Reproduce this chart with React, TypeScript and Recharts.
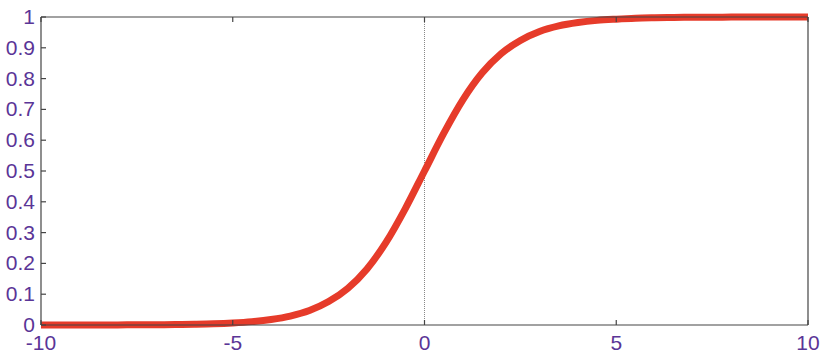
import React from "react";
import { LineChart, Line, XAxis, YAxis, ReferenceLine } from "recharts";

const xValues = [
  -10, -9.5, -9, -8.5, -8, -7.5, -7, -6.5, -6, -5.5, -5, -4.5, -4, -3.5, -3, -2.5, -2, -1.5, -1, -0.5,
  0, 0.5, 1, 1.5, 2, 2.5, 3, 3.5, 4, 4.5, 5, 5.5, 6, 6.5, 7, 7.5, 8, 8.5, 9, 9.5, 10,
];
const yValues = [
  0.0, 0.0001, 0.0001, 0.0002, 0.0003, 0.0006, 0.0009, 0.0015, 0.0025, 0.004, 0.0067, 0.011, 0.018,
  0.029, 0.047, 0.076, 0.119, 0.182, 0.269, 0.378, 0.5, 0.622, 0.731, 0.818, 0.881, 0.924, 0.953,
  0.971, 0.982, 0.989, 0.993, 0.996, 0.9975, 0.9985, 0.999, 0.9994, 0.9997, 0.9998, 0.9999, 0.9999, 1.0,
];
const xTicks = [-10, -5, 0, 5, 10];
const yTicks = [0, 0.1, 0.2, 0.3, 0.4, 0.5, 0.6, 0.7, 0.8, 0.9, 1];

const data = xValues.map((x, i) => ({ x, y: yValues[i] }));

const LABEL = "#5a3597";
const AXIS = "#444";
const FONT = "'Liberation Sans', Arial, Helvetica, sans-serif";

const BottomTick = (props: any) => {
  const { x, y, payload } = props;
  return (
    <g>
      <line x1={x} y1={y} x2={x} y2={y - 5} stroke={AXIS} strokeWidth={1.2} />
      <text x={x} y={y + 25} textAnchor="middle" fill={LABEL} fontSize={21} fontFamily={FONT}>
        {payload.value}
      </text>
    </g>
  );
};

const TopTick = (props: any) => {
  const { x, y } = props;
  return <line x1={x} y1={y} x2={x} y2={y + 5} stroke={AXIS} strokeWidth={1.2} />;
};

const LeftTick = (props: any) => {
  const { x, y, payload } = props;
  return (
    <g>
      <line x1={x} y1={y} x2={x + 5} y2={y} stroke={AXIS} strokeWidth={1.2} />
      <text x={x - 6} y={y + 7} textAnchor="end" fill={LABEL} fontSize={21} fontFamily={FONT}>
        {payload.value}
      </text>
    </g>
  );
};

const RightTick = (props: any) => {
  const { x, y } = props;
  return <line x1={x} y1={y} x2={x - 5} y2={y} stroke={AXIS} strokeWidth={1.2} />;
};

export default function App() {
  return (
    <div style={{ position: "absolute", left: 0, top: 0, background: "#fff" }}>
      <LineChart width={826} height={358} data={data} margin={{ top: 17, right: 18, left: 0, bottom: 0 }}>
        <XAxis
          dataKey="x"
          type="number"
          domain={[-10, 10]}
          ticks={xTicks}
          height={33}
          tickSize={0}
          tickMargin={0}
          tickLine={false}
          axisLine={{ stroke: AXIS, strokeWidth: 1.2 }}
          tick={<BottomTick />}
          interval={0}
        />
        <XAxis
          xAxisId="top"
          dataKey="x"
          type="number"
          orientation="top"
          mirror
          domain={[-10, 10]}
          ticks={xTicks}
          tickSize={0}
          tickMargin={0}
          tickLine={false}
          axisLine={{ stroke: AXIS, strokeWidth: 1.2 }}
          tick={<TopTick />}
          interval={0}
        />
        <YAxis
          type="number"
          domain={[0, 1]}
          ticks={yTicks}
          width={41}
          tickSize={0}
          tickMargin={0}
          tickLine={false}
          axisLine={{ stroke: AXIS, strokeWidth: 1.2 }}
          tick={<LeftTick />}
          interval={0}
        />
        <YAxis
          yAxisId="right"
          type="number"
          orientation="right"
          mirror
          domain={[0, 1]}
          ticks={yTicks}
          tickSize={0}
          tickMargin={0}
          tickLine={false}
          axisLine={{ stroke: AXIS, strokeWidth: 1.2 }}
          tick={<RightTick />}
          interval={0}
        />
        <ReferenceLine x={0} stroke="#888" strokeDasharray="1 1" strokeWidth={1} />
        <Line
          dataKey="y"
          type="monotone"
          stroke="#e63b2a"
          strokeWidth={7}
          dot={false}
          isAnimationActive={false}
        />
      </LineChart>
    </div>
  );
}
